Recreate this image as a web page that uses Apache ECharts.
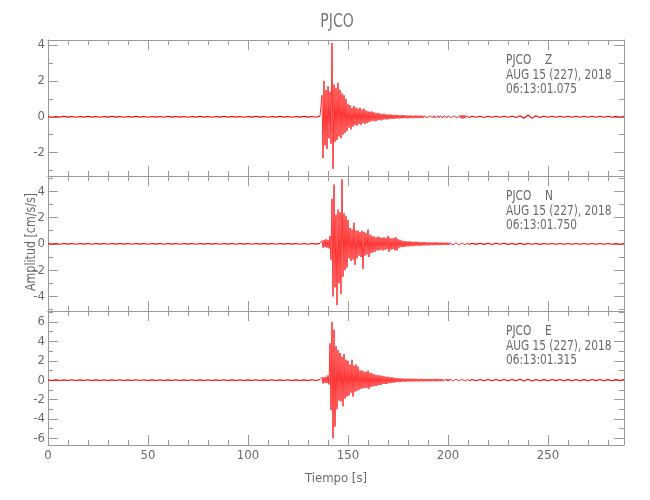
<!DOCTYPE html>
<html><head><meta charset="utf-8">
<script src="https://cdn.jsdelivr.net/npm/echarts@6/dist/echarts.min.js"></script>
<style>html,body{margin:0;padding:0;background:#fff}#c{width:650px;height:500px}</style>
</head><body><div id="c"></div>
<script>
const preStart = 0, preStep = 2;
const mainStart = 136, mainStep = 0.5;
const postStart = 212, postStep = 2;
const xMax = 288;

// ---- axis ticks ----
const xMajorTicks = [0, 50, 100, 150, 200, 250];
const xMinorTicks = [10,20,30,40,60,70,80,90,110,120,130,140,160,170,180,190,210,220,230,240,260,270,280];

// ---- Z component (cm/s/s) ----
const zPre = [0.02,-0.03,0.02,-0.02,0.03,-0.02,0.02,-0.03,0.02,-0.02,
 0.03,-0.02,0.02,-0.03,0.02,-0.02,0.03,-0.02,0.02,-0.03,
 0.02,-0.02,0.03,-0.02,0.02,-0.03,0.02,-0.02,0.02,-0.03,
 0.03,-0.02,0.02,-0.02,0.02,-0.03,0.02,-0.02,0.03,-0.02,
 0.02,-0.03,0.02,-0.02,0.03,-0.02,0.02,-0.02,0.02,-0.03,
 0.02,-0.02,0.03,-0.02,0.02,-0.03,0.02,-0.02,0.03,-0.02,
 0.02,-0.03,0.02,-0.02,0.03,-0.02,0.02,-0.03];
const zMain = [0.04,-0.05,1.2,-2.3,2.0,-1.6,1.5,-1.8,1.7,-1.2,
 1.4,-1.5,4.1,-2.9,1.8,-1.4,1.6,-1.3,1.9,-1.1,
 1.5,-1.2,1.3,-1.0,1.2,-0.9,1.0,-0.8,0.7,-0.6,
 0.65,-0.7,0.5,-0.55,0.6,-0.45,0.5,-0.5,0.45,-0.4,
 0.5,-0.45,0.4,-0.35,0.45,-0.4,0.35,-0.35,0.3,-0.3,
 0.28,-0.25,0.3,-0.22,0.25,-0.25,0.2,-0.22,0.22,-0.18,
 0.18,-0.2,0.15,-0.16,0.17,-0.14,0.14,-0.15,0.12,-0.13,
 0.14,-0.11,0.12,-0.12,0.1,-0.11,0.11,-0.09,0.1,-0.1,
 0.08,-0.09,0.1,-0.08,0.09,-0.07,0.08,-0.09,0.07,-0.08,
 0.08,-0.07,0.06,-0.08,0.07,-0.06,0.08,-0.07,0.06,-0.07,
 0.07,-0.06,0.06,-0.07,0.05,-0.06,0.07,-0.05,0.06,-0.06,
 0.05,-0.06,0.06,-0.05,0.07,-0.06,0.05,-0.05,0.06,-0.06,
 0.06,-0.05,0.05,-0.06,0.06,-0.05,0.05,-0.06,0.06,-0.05,
 0.05,-0.05,0.06,-0.05,0.05,-0.06,0.05,-0.05,0.06,-0.05,
 0.07,-0.08,0.1,-0.1,0.09,-0.08,0.06,-0.05,0.04,-0.04];
const zPost = [0.03,-0.03,0.03,-0.04,0.03,-0.03,0.03,-0.03,0.03,-0.03,
 0.03,-0.04,0.06,-0.08,0.1,-0.09,0.06,-0.04,0.03,-0.03,
 0.03,-0.03,0.03,-0.03,0.03,-0.03,0.03,-0.03,0.03,-0.03,
 0.03,-0.03,0.03,-0.03,0.03,-0.03,0.03,-0.03,0.03];

// ---- N component ----
const nPre = [0.03,-0.02,0.02,-0.03,0.02,-0.02,0.03,-0.03,0.02,-0.02,
 0.02,-0.03,0.03,-0.02,0.02,-0.03,0.02,-0.02,0.03,-0.02,
 0.02,-0.03,0.02,-0.02,0.03,-0.03,0.02,-0.02,0.02,-0.03,
 0.03,-0.02,0.02,-0.03,0.02,-0.02,0.03,-0.03,0.02,-0.02,
 0.02,-0.02,0.03,-0.03,0.02,-0.02,0.02,-0.03,0.03,-0.02,
 0.02,-0.03,0.02,-0.02,0.03,-0.02,0.02,-0.03,0.02,-0.02,
 0.03,-0.02,0.02,-0.03,0.02,-0.03,0.03,-0.02];
const nMain = [0.05,-0.06,0.25,-0.3,0.3,-0.25,0.35,-0.3,0.3,-0.35,
 0.6,-1.2,3.4,-4.0,4.5,-3.3,2.2,-4.65,2.6,-3.0,
 2.4,-3.8,4.9,-2.5,2.3,-2.0,2.1,-1.8,1.8,-1.1,
 1.2,-1.3,1.1,-1.2,1.6,-1.6,1.0,-1.1,1.0,-0.9,
 0.9,-1.0,1.0,-1.9,0.9,-0.9,0.8,-0.8,1.1,-1.0,
 0.7,-0.7,0.6,-0.65,0.55,-0.6,0.5,-0.5,0.55,-0.5,
 0.5,-0.45,0.45,-0.5,0.5,-0.45,0.45,-0.4,0.6,-0.6,
 0.45,-0.45,0.4,-0.4,0.45,-0.5,0.5,-0.5,0.35,-0.3,
 0.3,-0.25,0.25,-0.25,0.2,-0.22,0.2,-0.2,0.18,-0.2,
 0.2,-0.18,0.16,-0.18,0.15,-0.15,0.18,-0.14,0.14,-0.15,
 0.13,-0.14,0.12,-0.13,0.14,-0.12,0.12,-0.12,0.11,-0.12,
 0.12,-0.1,0.1,-0.11,0.11,-0.1,0.12,-0.1,0.1,-0.1,
 0.09,-0.1,0.1,-0.09,0.09,-0.08,0.1,-0.09,0.08,-0.08,
 0.08,-0.07,0.07,-0.08,0.07,-0.07,0.08,-0.07,0.06,-0.07,
 0.07,-0.06,0.06,-0.07,0.06,-0.06,0.07,-0.06,0.06,-0.06];
const nPost = [0.04,-0.04,0.05,-0.04,0.04,-0.05,0.04,-0.03,0.04,-0.04,
 0.03,-0.04,0.04,-0.04,0.03,-0.03,0.03,-0.04,0.03,-0.03,
 0.03,-0.03,0.03,-0.03,0.03,-0.03,0.03,-0.03,0.03,-0.03,
 0.03,-0.03,0.03,-0.03,0.03,-0.03,0.03,-0.03,0.03];

// ---- E component ----
const ePre = [0.04,-0.03,0.03,-0.04,0.03,-0.04,0.04,-0.03,0.03,-0.04,
 0.04,-0.04,0.03,-0.03,0.04,-0.04,0.03,-0.04,0.04,-0.03,
 0.03,-0.04,0.04,-0.03,0.04,-0.04,0.03,-0.03,0.04,-0.04,
 0.03,-0.04,0.04,-0.03,0.03,-0.04,0.04,-0.04,0.03,-0.03,
 0.04,-0.03,0.03,-0.04,0.04,-0.04,0.03,-0.03,0.04,-0.04,
 0.03,-0.04,0.04,-0.03,0.03,-0.04,0.04,-0.03,0.03,-0.04,
 0.04,-0.03,0.03,-0.04,0.03,-0.04,0.04,-0.03];
const eMain = [0.06,-0.08,0.3,-0.35,0.3,-0.3,0.35,-0.3,0.5,-0.45,
 3.8,-3.1,6.0,-6.0,5.2,-4.8,3.5,-3.0,3.1,-2.1,
 2.8,-2.2,2.4,-2.7,2.7,-1.9,2.1,-1.7,2.0,-1.6,
 1.6,-1.3,2.1,-1.7,1.5,-1.2,1.6,-1.1,1.4,-1.0,
 1.0,-0.9,1.0,-0.85,0.9,-0.8,0.85,-0.8,1.0,-0.9,
 0.75,-0.7,0.7,-0.65,0.6,-0.6,0.55,-0.6,0.5,-0.5,
 0.5,-0.5,0.45,-0.4,0.4,-0.4,0.35,-0.4,0.35,-0.3,
 0.3,-0.3,0.3,-0.28,0.25,-0.25,0.22,-0.2,0.2,-0.2,
 0.18,-0.2,0.17,-0.15,0.16,-0.18,0.15,-0.14,0.15,-0.15,
 0.14,-0.15,0.15,-0.13,0.13,-0.14,0.15,-0.13,0.12,-0.14,
 0.13,-0.12,0.14,-0.13,0.12,-0.12,0.13,-0.12,0.12,-0.13,
 0.12,-0.12,0.11,-0.12,0.12,-0.11,0.15,-0.13,0.12,-0.11,
 0.11,-0.12,0.12,-0.1,0.1,-0.12,0.11,-0.1,0.12,-0.11,
 0.1,-0.1,0.11,-0.1,0.1,-0.11,0.1,-0.09,0.1,-0.1,
 0.1,-0.09,0.09,-0.1,0.1,-0.09,0.09,-0.1,0.08,-0.07];
const ePost = [0.06,-0.06,0.07,-0.06,0.06,-0.07,0.06,-0.06,0.07,-0.06,
 0.06,-0.07,0.08,-0.08,0.09,-0.08,0.07,-0.06,0.05,-0.06,
 0.06,-0.05,0.06,-0.06,0.05,-0.06,0.06,-0.06,0.05,-0.06,
 0.06,-0.05,0.06,-0.06,0.05,-0.06,0.06,-0.05,0.06];

// ---- per-panel y axis ranges / ticks ----
const zRange = [-3.3, 4.28], zYMajor = [-2, 0, 2, 4], zYMinor = [-3, -1, 1, 3];
const nRange = [-5.1, 5.15], nYMajor = [-4, -2, 0, 2, 4], nYMinor = [-5, -3, -1, 1, 3, 5];
const eRange = [-6.7, 7.14], eYMajor = [-6, -4, -2, 0, 2, 4, 6], eYMinor = [-5, -3, -1, 1, 3, 5, 7];

// ---- texts ----
const station = 'PJCO';
const dateText = 'AUG 15 (227), 2018';
const compNames = ['Z', 'N', 'E'];
const startTimes = ['06:13:01.075', '06:13:01.750', '06:13:01.315'];

const panels = [
  {pre: zPre, main: zMain, post: zPost, range: zRange, major: zYMajor, minor: zYMinor},
  {pre: nPre, main: nMain, post: nPost, range: nRange, major: nYMajor, minor: nYMinor},
  {pre: ePre, main: eMain, post: ePost, range: eRange, major: eYMajor, minor: eYMinor}
];

const FONT = "'Liberation Sans Narrow','DejaVu Sans Condensed',sans-serif";
const AX = '#9a9a9a';
const TXT = '#6a6a6a';
const gridTops = [40, 176, 311];
const gridHeights = [136, 135, 134];

function seg(arr, start, step) { return arr.map((v, i) => [start + i * step, v]); }

const grids = [], xAxes = [], yAxes = [], series = [], graphics = [];
panels.forEach((p, g) => {
  grids.push({left: 48, width: 576, top: gridTops[g], height: gridHeights[g], containLabel: false});
  const last = g === 2;
  [['bottom', true], ['bottom', false], ['top', true], ['top', false]].forEach(([pos, major]) => {
    xAxes.push({
      type: 'value', gridIndex: g, position: pos, min: 0, max: xMax,
      axisLine: {show: major, onZero: false, lineStyle: {color: AX, width: 1}},
      axisTick: {show: true, inside: true, length: major ? 10 : 5,
        customValues: major ? xMajorTicks : xMinorTicks, lineStyle: {color: AX, width: 1}},
      axisLabel: {show: last && pos === 'bottom' && major, customValues: xMajorTicks,
        margin: 4, color: TXT, fontFamily: FONT, fontSize: 13},
      splitLine: {show: false},
      name: (last && pos === 'bottom' && major) ? 'Tiempo [s]' : '',
      nameLocation: 'middle', nameGap: 27,
      nameTextStyle: {color: TXT, fontFamily: FONT, fontSize: 13}
    });
  });
  [['left', true], ['left', false], ['right', true], ['right', false]].forEach(([pos, major]) => {
    yAxes.push({
      type: 'value', gridIndex: g, position: pos, min: p.range[0], max: p.range[1],
      axisLine: {show: major, onZero: false, lineStyle: {color: AX, width: 1}},
      axisTick: {show: true, inside: true, length: major ? 10 : 5,
        customValues: major ? p.major : p.minor, lineStyle: {color: AX, width: 1}},
      axisLabel: {show: pos === 'left' && major, customValues: p.major,
        margin: 3, color: TXT, fontFamily: FONT, fontSize: 13},
      splitLine: {show: false}
    });
  });
  const pre = seg(p.pre, preStart, preStep);
  const main = seg(p.main, mainStart, mainStep);
  const post = seg(p.post, postStart, postStep);
  const common = {type: 'line', xAxisIndex: 4 * g, yAxisIndex: 4 * g, showSymbol: false,
    symbol: 'none', sampling: null, silent: true, animation: false};
  series.push(
    Object.assign({}, common, {data: pre.concat([main[0]]), lineStyle: {color: '#ff0000', width: 1.1}}),
    Object.assign({}, common, {data: [main[main.length - 1]].concat(post), lineStyle: {color: '#ff0000', width: 1.1}}),
    Object.assign({}, common, {data: main, lineStyle: {color: '#ff0000', width: 0.8}})
  );
  const ty = gridTops[g] + 20.7;
  const tx = (txt, x, y) => ({type: 'text', x: x, y: y, scaleX: 0.84,
    style: {text: txt, fill: TXT, font: '14px ' + FONT, textVerticalAlign: 'middle'}});
  graphics.push(tx(station, 506, ty), tx(compNames[g], 545, ty),
    tx(dateText, 506, ty + 14.5), tx(startTimes[g], 506, ty + 29));
});

graphics.push(
  {type: 'text', x: 337, y: 22, scaleX: 0.78,
    style: {text: station, fill: '#777', font: '20px ' + FONT, textAlign: 'center', textVerticalAlign: 'middle'}},
  {type: 'text', x: 31, y: 242, rotation: Math.PI / 2, scaleX: 0.88,
    style: {text: 'Amplitud [cm/s/s]', fill: TXT, font: '14px ' + FONT, textAlign: 'center', textVerticalAlign: 'middle'}}
);

const chart = echarts.init(document.getElementById('c'), null, {renderer: 'canvas'});
chart.setOption({
  animation: false,
  backgroundColor: '#fff',
  grid: grids, xAxis: xAxes, yAxis: yAxes, series: series, graphic: graphics
});
</script></body></html>
